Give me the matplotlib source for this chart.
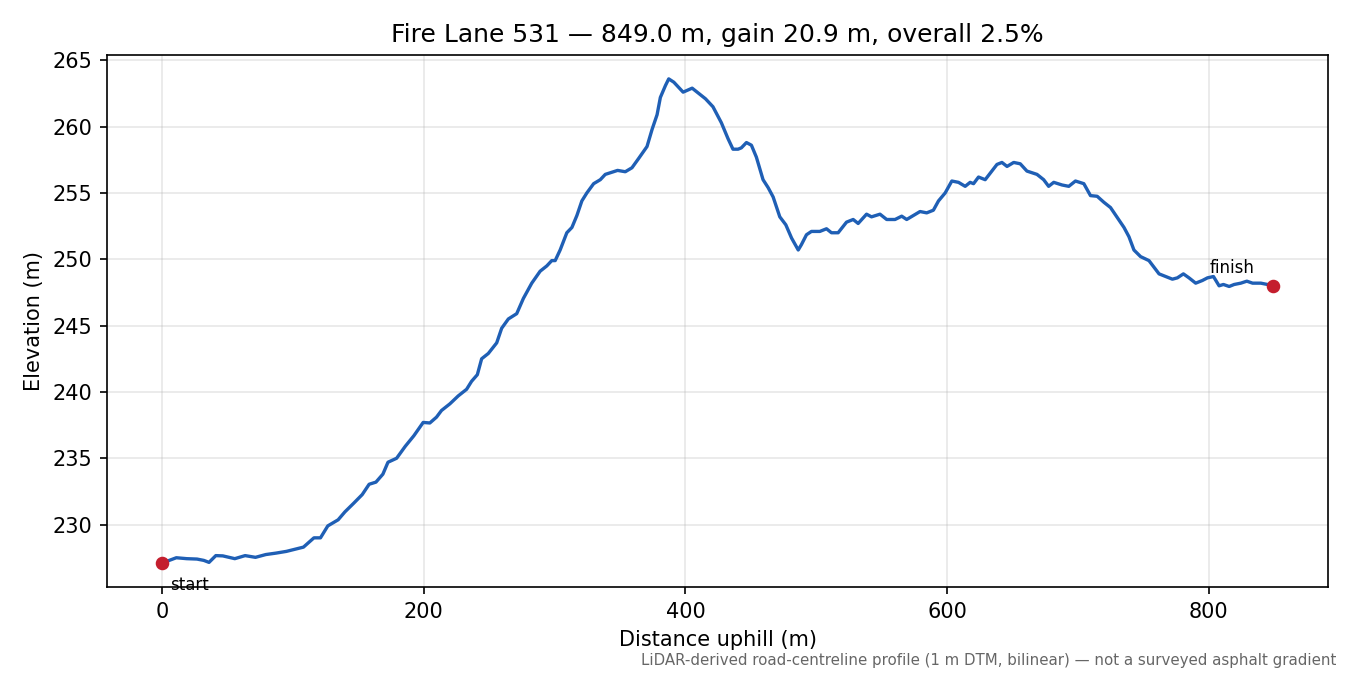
"""Elevation profile of Fire Lane 531 along the road centreline."""

import matplotlib
matplotlib.use("Agg")
import matplotlib.pyplot as plt

LINE_COLOR = "#1f5fb5"
DOT_COLOR = "#c41e2e"

# Distance along the road (m) and elevation (m)
distance = [
    0, 10.8, 18.7, 26.6, 31.8, 35.8, 41, 46.3, 55.5, 63.4, 71.3, 79.2, 87.1, 95,
    108, 116, 121, 126.6, 134.5, 139.7, 146.3, 152.9, 158.2, 163.4, 168.7, 172.6,
    179.2, 185.8, 192.4, 199.5, 204.6, 209.7, 213.5, 219.9, 226.3, 232.7, 236.5,
    240.9, 244.2, 249.3, 255.7, 259.5, 264.6, 271, 276.1, 282.5, 288.9, 294,
    297.8, 300.4, 304.2, 309.3, 313.2, 317, 320.8, 324.6, 329.8, 334.9, 338.7,
    345.1, 348.1, 354, 359.1, 364.2, 370.6, 374.5, 378.3, 380.8, 384.7, 387.2,
    391.1, 398.2, 405.1, 411.5, 415.3, 421, 427.4, 432.5, 436.3, 440.2, 442.7,
    446.6, 450.4, 454.2, 459.3, 463.2, 467, 472.1, 476.7, 481.1, 486.2, 488.6,
    492.5, 496.3, 502.7, 507.8, 511.6, 516.7, 523.1, 528.2, 532, 538.4, 542.2,
    548.7, 553.8, 560.2, 565.3, 569.1, 574.2, 579.3, 584.4, 589.5, 593.4, 598.5,
    603.6, 608.7, 613.8, 617.6, 620.2, 624, 629.1, 633, 638.1, 641.9, 645.8,
    650.9, 655.9, 661, 668.7, 673.8, 677.6, 681.5, 687.9, 693, 698.1, 704.5,
    709.6, 714.7, 719.8, 724.9, 730, 735.2, 739, 742.8, 747.9, 754.3, 758.1, 762,
    767.1, 772.2, 776, 780.6, 784.9, 790, 795.1, 799, 803.6, 807.9, 811.2, 815.6,
    819.4, 824.5, 829.1, 833.5, 839.8, 844.9, 849.0,
]
elevation = [
    227.1, 227.5, 227.43, 227.4, 227.3, 227.15, 227.66, 227.64, 227.43, 227.66,
    227.53, 227.74, 227.85, 227.98, 228.3, 229.0, 229.0, 229.9, 230.36, 230.96,
    231.6, 232.26, 233.04, 233.2, 233.8, 234.7, 235.0, 235.9, 236.7, 237.7,
    237.66, 238.1, 238.6, 239.1, 239.7, 240.2, 240.8, 241.3, 242.5, 242.9, 243.7,
    244.8, 245.5, 245.9, 247.05, 248.2, 249.1, 249.5, 249.9, 249.9, 250.7, 252.0,
    252.4, 253.3, 254.4, 255.0, 255.7, 256.0, 256.4, 256.6, 256.7, 256.6, 256.9,
    257.6, 258.5, 259.8, 260.9, 262.2, 263.1, 263.6, 263.35, 262.6, 262.9, 262.4,
    262.1, 261.5, 260.3, 259.1, 258.3, 258.3, 258.4, 258.8, 258.6, 257.7, 256.0,
    255.4, 254.7, 253.2, 252.6, 251.6, 250.7, 251.1, 251.85, 252.1, 252.1, 252.3,
    252.0, 252.0, 252.8, 253.0, 252.7, 253.4, 253.2, 253.4, 253.0, 253.0, 253.25,
    253.0, 253.3, 253.6, 253.5, 253.7, 254.4, 255.0, 255.9, 255.8, 255.5, 255.8,
    255.7, 256.2, 256.0, 256.5, 257.15, 257.3, 257.0, 257.3, 257.2, 256.65, 256.4,
    256.0, 255.5, 255.8, 255.6, 255.5, 255.9, 255.7, 254.8, 254.75, 254.3, 253.9,
    253.15, 252.4, 251.7, 250.7, 250.2, 249.9, 249.4, 248.9, 248.7, 248.5, 248.6,
    248.9, 248.6, 248.2, 248.4, 248.6, 248.7, 248.0, 248.1, 247.95, 248.1, 248.2,
    248.35, 248.2, 248.2, 248.1, 248.0,
]
route_name = "Fire Lane 531"
footnote = "LiDAR-derived road-centreline profile (1 m DTM, bilinear) \u2014 not a surveyed asphalt gradient"

total = distance[-1]
gain = elevation[-1] - elevation[0]
overall = 100 * gain / total

fig, ax = plt.subplots(figsize=(9, 4.5), dpi=150)
ax.plot(distance, elevation, color=LINE_COLOR, linewidth=1.6)
ax.plot(
    [distance[0], distance[-1]],
    [elevation[0], elevation[-1]],
    "o",
    color=DOT_COLOR,
    markersize=5.5,
    zorder=3,
)
ax.annotate(
    "start",
    (distance[0], elevation[0]),
    xytext=(4, -6),
    textcoords="offset points",
    ha="left",
    va="top",
    fontsize=8,
)
ax.annotate(
    "finish",
    (distance[-1], elevation[-1]),
    xytext=(-9, 4),
    textcoords="offset points",
    ha="right",
    va="bottom",
    fontsize=8,
)

ax.grid(True, alpha=0.3)
ax.set_xlabel("Distance uphill (m)")
ax.set_ylabel("Elevation (m)")
ax.set_title(f"{route_name} \u2014 {total:.1f} m, gain {gain:.1f} m, overall {overall:.1f}%")
fig.text(0.99, 0.01, footnote, ha="right", va="bottom", fontsize=7.2, color="0.4")

fig.subplots_adjust(left=0.079, right=0.984, top=0.919, bottom=0.13)
fig.savefig("out.png")
